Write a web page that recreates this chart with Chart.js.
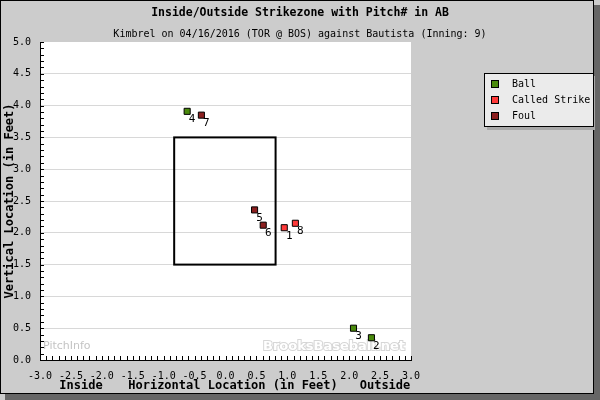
<!DOCTYPE html>
<html>
<head>
<meta charset="utf-8">
<script src="https://cdn.jsdelivr.net/npm/chart.js@4"></script>
<style>
  html, body { margin: 0; padding: 0; background: #cccccc; }
  canvas { display: block; }
</style>
</head>
<body>
<canvas id="zone-chart" width="600" height="400"></canvas>
<script>
// pitch data (feet)
const pitchTypes = ["Ball", "Called Strike", "Foul"];
const typeColors = ["#4a8a0c", "#ff3a3a", "#8b1f1f"];

const ballX = [2.36, 2.07, -0.62];
const ballY = [0.35, 0.50, 3.91];
const ballNum = [2, 3, 4];

const strikeX = [0.95, 1.13];
const strikeY = [2.08, 2.15];
const strikeNum = [1, 8];

const foulX = [0.47, 0.61, -0.39];
const foulY = [2.36, 2.12, 3.85];
const foulNum = [5, 6, 7];

// strike zone edges
const zoneX = [-0.83, 0.81];
const zoneY = [1.5, 3.5];

const xRange = [-3, 3];
const yRange = [0, 5];

const mono = '"DejaVu Sans Mono", monospace';

function toPoints(xs, ys) {
  return xs.map((x, i) => ({ x: x, y: ys[i] }));
}

const pitchNums = [ballNum, strikeNum, foulNum];

// fond gris, bordure et ombre
const backgroundPlugin = {
  id: 'background',
  beforeDraw(chart) {
    const ctx = chart.ctx;
    const a = chart.chartArea;
    ctx.save();
    ctx.fillStyle = '#cccccc';
    ctx.fillRect(0, 0, 600, 400);
    ctx.fillStyle = '#666666';
    ctx.fillRect(594, 5, 6, 395);
    ctx.fillRect(5, 394, 595, 6);
    ctx.strokeStyle = '#000';
    ctx.lineWidth = 1;
    ctx.strokeRect(0.5, 0.5, 593, 393);
    ctx.fillStyle = '#ffffff';
    ctx.fillRect(a.left, a.top, a.right - a.left, a.bottom - a.top);
    ctx.restore();
  }
};

// petits ticks vers l'intérieur, zone de strike, filigranes
const zonePlugin = {
  id: 'zone',
  beforeDatasetsDraw(chart) {
    const ctx = chart.ctx;
    const xs = chart.scales.x;
    const ys = chart.scales.y;
    const a = chart.chartArea;
    ctx.save();

    // watermarks
    ctx.font = '11px "DejaVu Sans", sans-serif';
    ctx.fillStyle = '#c4c4c4';
    ctx.textAlign = 'left';
    ctx.textBaseline = 'middle';
    ctx.fillText('PitchInfo', a.left + 3, a.bottom - 14);
    ctx.font = 'bold 13px "DejaVu Sans", sans-serif';
    ctx.textAlign = 'right';
    ctx.lineWidth = 2;
    ctx.strokeStyle = '#d6d6d6';
    ctx.strokeText('BrooksBaseball.net', a.right - 6, a.bottom - 13);
    ctx.fillStyle = '#ffffff';
    ctx.fillText('BrooksBaseball.net', a.right - 6, a.bottom - 13);

    ctx.strokeStyle = '#000';
    ctx.lineWidth = 1;
    ctx.beginPath();
    for (let i = xRange[0] * 10; i <= xRange[1] * 10; i++) {
      const px = Math.round(xs.getPixelForValue(i / 10)) + 0.5;
      ctx.moveTo(px, a.bottom);
      ctx.lineTo(px, a.bottom - 4);
    }
    for (let i = yRange[0] * 10; i <= yRange[1] * 10; i++) {
      const py = Math.round(ys.getPixelForValue(i / 10)) + 0.5;
      ctx.moveTo(a.left, py);
      ctx.lineTo(a.left + 4, py);
    }
    ctx.stroke();

    const x1 = xs.getPixelForValue(zoneX[0]);
    const x2 = xs.getPixelForValue(zoneX[1]);
    const y1 = ys.getPixelForValue(zoneY[1]);
    const y2 = ys.getPixelForValue(zoneY[0]);
    ctx.lineWidth = 2;
    ctx.strokeRect(x1, y1, x2 - x1, y2 - y1);
    ctx.restore();
  },
  afterDatasetsDraw(chart) {
    const ctx = chart.ctx;
    ctx.save();
    ctx.font = '11px ' + mono;
    ctx.fillStyle = '#000';
    ctx.textAlign = 'center';
    ctx.textBaseline = 'middle';
    chart.data.datasets.forEach((ds, d) => {
      chart.getDatasetMeta(d).data.forEach((pt, i) => {
        ctx.fillText(String(pitchNums[d][i]), pt.x + 5, pt.y + 8);
      });
    });
    ctx.restore();
  }
};

// titres et légende
const textPlugin = {
  id: 'texts',
  afterDraw(chart) {
    const ctx = chart.ctx;
    const a = chart.chartArea;
    ctx.save();
    ctx.fillStyle = '#000';
    ctx.textBaseline = 'middle';
    ctx.textAlign = 'center';
    ctx.font = 'bold 11.5px ' + mono;
    ctx.fillText('Inside/Outside Strikezone with Pitch# in AB', 300, 13);
    ctx.font = '10px ' + mono;
    ctx.fillText('Kimbrel on 04/16/2016 (TOR @ BOS) against Bautista (Inning: 9)', 300, 34);

    ctx.font = 'bold 12px ' + mono;
    ctx.fillText('Horizontal Location (in Feet)', 233, 386);
    ctx.fillText('Inside', 81, 386);
    ctx.fillText('Outside', 385, 386);

    ctx.save();
    ctx.translate(10, (a.top + a.bottom) / 2);
    ctx.rotate(-Math.PI / 2);
    ctx.fillText('Vertical Location (in Feet)', 0, 0);
    ctx.restore();

    // legend
    ctx.fillStyle = '#a8a8a8';
    ctx.fillRect(487, 76, 108, 54);
    ctx.fillStyle = '#ebebeb';
    ctx.fillRect(484, 73, 110, 53);
    ctx.strokeStyle = '#000';
    ctx.lineWidth = 1;
    ctx.strokeRect(484.5, 73.5, 109, 53);
    ctx.font = '10px ' + mono;
    ctx.textAlign = 'left';
    chart.data.datasets.forEach((ds, d) => {
      const cy = 84 + d * 16;
      ctx.fillStyle = ds.backgroundColor;
      ctx.fillRect(491, cy - 4, 8, 8);
      ctx.strokeRect(491.5, cy - 3.5, 7, 7);
      ctx.fillStyle = '#000';
      ctx.fillText(ds.label, 512, cy);
    });
    ctx.restore();
  }
};

const datasets = [
  { label: pitchTypes[0], data: toPoints(ballX, ballY) },
  { label: pitchTypes[1], data: toPoints(strikeX, strikeY) },
  { label: pitchTypes[2], data: toPoints(foulX, foulY) }
].map((ds, i) => Object.assign(ds, {
  backgroundColor: typeColors[i],
  borderColor: '#000',
  borderWidth: 1,
  pointStyle: 'rect',
  pointRadius: 4.3
}));

const ctx = document.getElementById('zone-chart').getContext('2d');
const zoneChart = new Chart(ctx, {
  type: 'scatter',
  data: { datasets: datasets },
  options: {
    responsive: false,
    animation: false,
    devicePixelRatio: 1,
    layout: { padding: { left: 0, top: 42, right: 189, bottom: 0 } },
    plugins: { legend: { display: false }, tooltip: { enabled: false } },
    scales: {
      x: {
        type: 'linear',
        min: xRange[0],
        max: xRange[1],
        afterFit: s => { s.height = 40; },
        grid: { display: false, drawTicks: false },
        border: { display: true, color: '#000', width: 1 },
        ticks: {
          stepSize: 0.5,
          autoSkip: false,
          maxRotation: 0,
          padding: 10,
          color: '#000',
          font: { family: mono, size: 10 },
          callback: v => v.toFixed(1)
        }
      },
      y: {
        type: 'linear',
        min: yRange[0],
        max: yRange[1],
        afterFit: s => { s.width = 40; },
        grid: {
          drawTicks: false,
          color: c => (c.tick && (c.tick.value === 0 || c.tick.value === 5)) ? 'rgba(0,0,0,0)' : '#d8d8d8'
        },
        border: { display: true, color: '#000', width: 1 },
        ticks: {
          stepSize: 0.5,
          padding: 9,
          color: '#000',
          font: { family: mono, size: 10 },
          callback: v => v.toFixed(1)
        }
      }
    }
  },
  plugins: [backgroundPlugin, zonePlugin, textPlugin]
});
</script>
</body>
</html>
